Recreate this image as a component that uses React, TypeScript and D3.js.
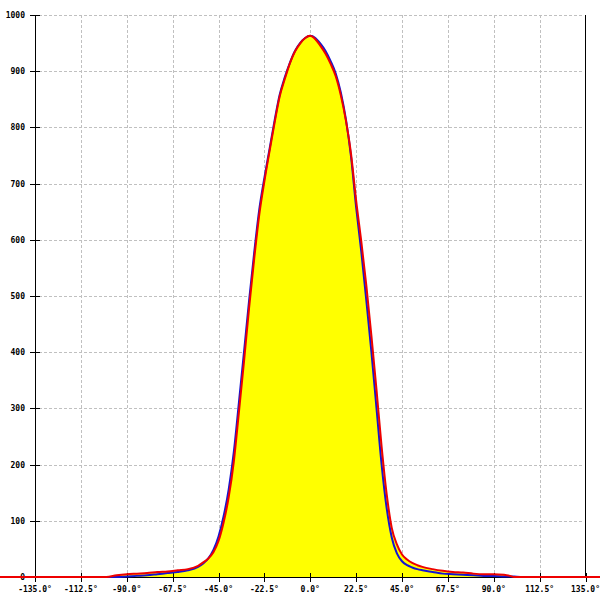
import React from "react";
import * as d3 from "d3";

const angles = [-155, -100, -95, -90, -85, -80, -75, -70, -65, -60, -55, -52.5, -50, -47.5, -45, -42.5, -40, -37.5, -35, -32.5, -30, -27.5, -25, -22.5, -20, -17.5, -15, -12.5, -10, -7.5, -5, -2.5, 0, 2.5, 5, 7.5, 10, 12.5, 15, 17.5, 20, 22.5, 25, 27.5, 30, 32.5, 35, 37.5, 40, 42.5, 45, 47.5, 50, 52.5, 55, 60, 65, 70, 75, 80, 85, 90, 95, 98, 100, 103, 155];

const redValues = [0, 0, 3, 5, 6, 7, 9, 10, 12, 14, 20, 26, 33, 44, 64, 97, 142, 205, 293, 383, 479, 566, 645, 704, 757, 808, 855, 886, 914, 935, 949, 959, 963, 957, 945, 931, 913, 891, 857, 812, 753, 670, 598, 519, 429, 333, 232, 147, 87, 58, 40, 31, 25, 21, 18, 14, 11, 9, 8, 6, 5, 5, 4, 2, 0, 0, 0];

const blueValues: (number | null)[] = [null, 0, 0, 1, 2, 3, 5, 7, 9, 12, 18, 24, 33, 48, 72, 108, 156, 222, 310, 400, 492, 577, 654, 710, 761, 812, 858, 889, 915, 936, 950, 959, 963, 959, 949, 936, 918, 896, 862, 814, 748, 658, 580, 492, 400, 300, 200, 122, 70, 42, 28, 21, 17, 14, 12, 9, 6, 5, 4, 3, 2, 2, 1, 1, 1, 0, null];

const xTicks = [-135, -112.5, -90, -67.5, -45, -22.5, 0, 22.5, 45, 67.5, 90, 112.5, 135];
const yTicks = [0, 100, 200, 300, 400, 500, 600, 700, 800, 900, 1000];

export default function App() {
  const x = d3.scaleLinear().domain([-135, 135]).range([35, 585.5]);
  const y = d3.scaleLinear().domain([0, 1000]).range([577, 15]);

  const redPts = angles.map((a, i) => [a, redValues[i]] as [number, number]);
  const bluePts = angles.map((a, i) => [a, blueValues[i]] as [number, number | null]);

  const curve = d3.curveMonotoneX;
  const area = d3
    .area<[number, number]>()
    .x((d) => x(d[0]))
    .y0(y(0))
    .y1((d) => y(d[1]))
    .curve(curve);
  const redLine = d3
    .line<[number, number]>()
    .x((d) => x(d[0]))
    .y((d) => y(d[1]))
    .curve(curve);
  const blueLine = d3
    .line<[number, number | null]>()
    .defined((d) => d[1] !== null)
    .x((d) => x(d[0]))
    .y((d) => y(d[1] as number))
    .curve(curve);

  const font = "'DejaVu Sans Mono', monospace";
  const top = y(1000);
  const bottom = y(0);

  return (
    <svg
      width={600}
      height={600}
      style={{ position: "absolute", left: 0, top: 0, background: "#fff" }}
    >
      {xTicks
        .filter((t) => t !== -135 && t !== 135)
        .map((t) => (
          <line
            key={"gx" + t}
            x1={Math.round(x(t)) + 0.5}
            x2={Math.round(x(t)) + 0.5}
            y1={top}
            y2={bottom}
            stroke="#c0c0c0"
            strokeDasharray="3,2"
          />
        ))}
      {yTicks
        .filter((t) => t !== 0)
        .map((t) => (
          <line
            key={"gy" + t}
            x1={39}
            x2={583}
            y1={Math.round(y(t)) + 0.5}
            y2={Math.round(y(t)) + 0.5}
            stroke="#c0c0c0"
            strokeDasharray="3,2"
          />
        ))}

      <path d={area(redPts.slice(1, -1)) || ""} fill="#ffff00" />

      <line x1={35.5} x2={35.5} y1={top} y2={bottom} stroke="#000" />
      <line x1={585.5} x2={585.5} y1={top} y2={bottom} stroke="#000" />
      <line x1={35} x2={586} y1={bottom + 0.5} y2={bottom + 0.5} stroke="#000" />
      {yTicks.map((t) => (
        <g key={"ty" + t}>
          <line
            x1={30}
            x2={40}
            y1={Math.round(y(t)) + 0.5}
            y2={Math.round(y(t)) + 0.5}
            stroke="#000"
          />
          <text
            x={25}
            y={y(t) + 3}
            textAnchor="end"
            fontFamily={font}
            fontSize={8}
            fontWeight="bold"
            fill="#000"
          >
            {t}
          </text>
        </g>
      ))}
      {xTicks.map((t) => (
        <g key={"tx" + t}>
          <line
            x1={Math.round(x(t)) + 0.5}
            x2={Math.round(x(t)) + 0.5}
            y1={bottom - 4}
            y2={bottom + 5}
            stroke="#000"
          />
          <text
            x={x(t)}
            y={592}
            textAnchor="middle"
            fontFamily={font}
            fontSize={8}
            fontWeight="bold"
            fill="#000"
          >
            {t.toFixed(1) + "°"}
          </text>
        </g>
      ))}

      <path d={blueLine(bluePts) || ""} fill="none" stroke="#1414d2" strokeWidth={2} />
      <path d={redLine(redPts) || ""} fill="none" stroke="#ee0000" strokeWidth={2} />
    </svg>
  );
}
